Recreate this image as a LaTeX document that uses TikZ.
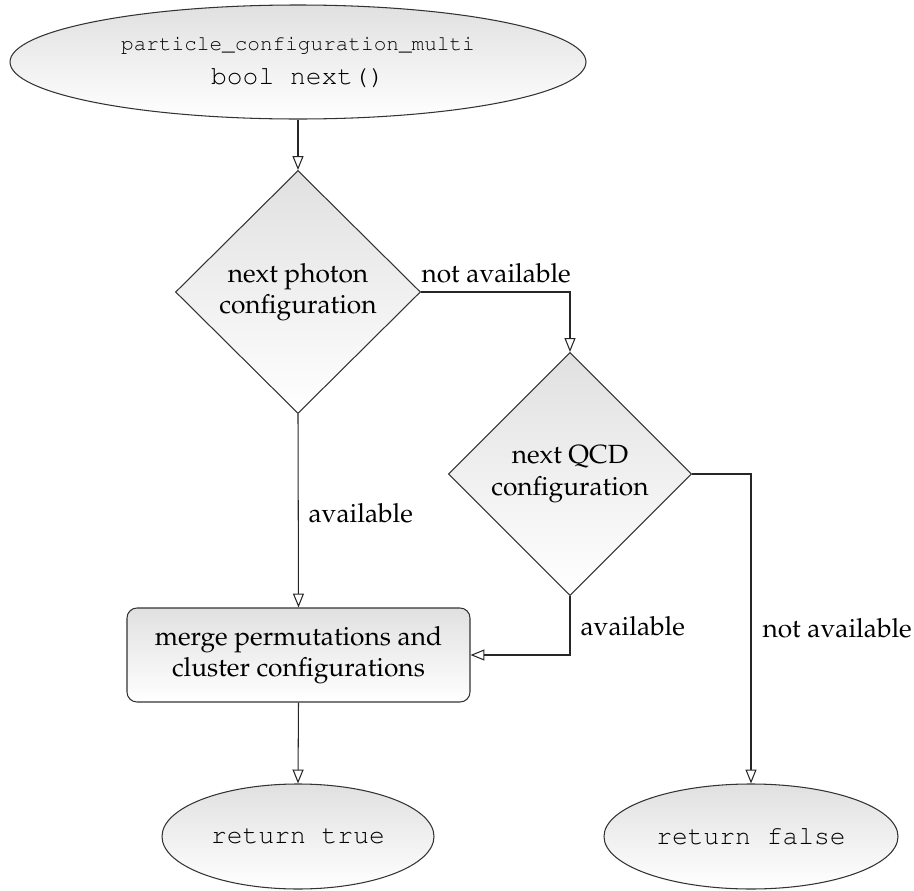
\documentclass[tikz,border=0pt]{standalone}
\usepackage[T1]{fontenc}
\usepackage{mathpazo}
\usepackage{courier}
\usetikzlibrary{shapes.geometric,arrows.meta}
\begin{document}
\begin{tikzpicture}[x=0.38pt,y=-0.38pt,
  box/.style={draw=black!80, line width=0.4pt, top color=black!12, bottom color=white,
              inner sep=0pt, align=center},
  term/.style={box, ellipse},
  decision/.style={box, diamond},
  proc/.style={box, rectangle, rounded corners=3.8pt},
  flow/.style={draw=black!85, line width=0.4pt,
               -{Triangle[open,width=4.2pt,length=5.3pt]}},
  lbl/.style={inner sep=0pt, anchor=base west},
  code/.style={font=\fontsize{10}{12}\selectfont\ttfamily}
]
\useasboundingbox (0,0) rectangle (914,891);

% nodes
\node[term, minimum width=576*0.38pt, minimum height=114*0.38pt] (start) at (298,62)
  {{\fontsize{8}{9.5}\selectfont\ttfamily particle\_configuration\_multi}\\[1pt]
   {\fontsize{10}{12}\selectfont\ttfamily bool next()}};
\node[decision, minimum width=245*0.38pt, minimum height=243*0.38pt] (d1) at (298,292)
  {next photon\\configuration};
\node[decision, minimum width=243*0.38pt, minimum height=243*0.38pt] (d2) at (570,474)
  {next QCD\\configuration};
\node[proc, minimum width=343*0.38pt, minimum height=94*0.38pt] (merge) at (298.5,655)
  {merge permutations and\\cluster configurations};
\node[term, code, minimum width=272*0.38pt, minimum height=105*0.38pt] (rtrue) at (298,836.5)
  {return true};
\node[term, code, minimum width=294*0.38pt, minimum height=105*0.38pt] (rfalse) at (751,836.5)
  {return false};

% connectors
\draw[flow] (start.south) -- (d1.north);
\draw[flow] (d1.east) -| (d2.north);
\draw[flow] (d1.south) -- (merge.north);
\draw[flow] (d2.south) |- (merge.east);
\draw[flow] (d2.east) -| (rfalse.north);
\draw[flow] (merge.south) -- (rtrue.north);

% edge labels
\node[lbl] (l1) at (421,282) {not available};
\node[lbl] (l2) at (308,522) {available};
\node[lbl] (l3) at (580,635) {available};
\node[lbl] (l4) at (762,637) {not available};
\end{tikzpicture}
\end{document}
